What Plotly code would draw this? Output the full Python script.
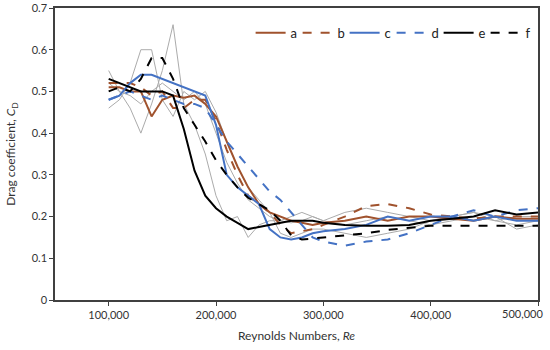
import plotly.graph_objects as go

re_k = [100, 110, 120, 130, 140, 150, 160, 170, 180, 190, 200, 210, 220, 230, 240,
        250, 260, 270, 280, 290, 300, 320, 340, 360, 380, 400, 420, 440, 460, 480, 500]
x_vals = [v * 1000 for v in re_k]

cd_a = [0.51, 0.51, 0.50, 0.50, 0.44, 0.48, 0.49, 0.485, 0.49, 0.47, 0.44, 0.38, 0.32, 0.27, 0.23,
        0.21, 0.20, 0.19, 0.185, 0.18, 0.185, 0.19, 0.20, 0.19, 0.20, 0.20, 0.195, 0.19, 0.20, 0.195, 0.195]
cd_b = [0.52, 0.52, 0.52, 0.51, 0.49, 0.50, 0.46, 0.46, 0.48, 0.48, 0.43, 0.36, 0.30, 0.25, 0.23,
        0.21, 0.18, 0.16, 0.165, 0.17, 0.18, 0.20, 0.225, 0.23, 0.22, 0.205, 0.20, 0.195, 0.20, 0.20, 0.20]
cd_c = [0.48, 0.49, 0.52, 0.54, 0.54, 0.53, 0.52, 0.51, 0.50, 0.49, 0.42, 0.30, 0.27, 0.25, 0.23,
        0.17, 0.15, 0.145, 0.15, 0.16, 0.165, 0.17, 0.18, 0.20, 0.19, 0.20, 0.20, 0.19, 0.20, 0.19, 0.19]
cd_d = [0.48, 0.49, 0.50, 0.49, 0.48, 0.49, 0.48, 0.47, 0.47, 0.46, 0.42, 0.38, 0.35, 0.32, 0.29,
        0.26, 0.24, 0.21, 0.18, 0.15, 0.14, 0.13, 0.14, 0.145, 0.16, 0.18, 0.20, 0.215, 0.20, 0.215, 0.22]
cd_e = [0.53, 0.52, 0.51, 0.50, 0.50, 0.50, 0.49, 0.41, 0.31, 0.25, 0.22, 0.20, 0.185, 0.17, 0.175,
        0.18, 0.185, 0.19, 0.19, 0.19, 0.185, 0.18, 0.178, 0.178, 0.18, 0.19, 0.195, 0.20, 0.215, 0.205, 0.21]
cd_f = [0.50, 0.51, 0.50, 0.53, 0.58, 0.58, 0.53, 0.46, 0.42, 0.38, 0.335, 0.30, 0.27, 0.245, 0.23,
        0.215, 0.19, 0.155, 0.145, 0.148, 0.15, 0.155, 0.16, 0.168, 0.173, 0.178, 0.178, 0.178, 0.178, 0.178, 0.178]

gray_1 = [0.55, 0.50, 0.46, 0.40, 0.47, 0.55, 0.66, 0.47, 0.42, 0.35, 0.25, 0.19, 0.20, 0.15, 0.18,
          0.19, 0.19, 0.185, 0.19, 0.20, 0.19, 0.18, 0.19, 0.20, 0.19, 0.18, 0.19, 0.20, 0.19, 0.18, 0.19]
gray_2 = [0.46, 0.48, 0.52, 0.60, 0.60, 0.48, 0.44, 0.50, 0.48, 0.50, 0.45, 0.38, 0.32, 0.27, 0.24,
          0.21, 0.16, 0.15, 0.16, 0.17, 0.17, 0.16, 0.15, 0.16, 0.17, 0.19, 0.20, 0.21, 0.20, 0.17, 0.18]
gray_3 = [0.52, 0.50, 0.49, 0.47, 0.50, 0.52, 0.50, 0.48, 0.50, 0.47, 0.40, 0.33, 0.28, 0.24, 0.22,
          0.20, 0.19, 0.20, 0.21, 0.20, 0.19, 0.21, 0.22, 0.21, 0.20, 0.19, 0.20, 0.21, 0.19, 0.20, 0.20]

x_tick_vals = [100000, 200000, 300000, 400000, 500000]
x_tick_text = ["100,000", "200,000", "300,000", "400,000", "500,000"]
y_tick_vals = [0, 0.1, 0.2, 0.3, 0.4, 0.5, 0.6, 0.7]
y_tick_text = ["0", "0.1", "0.2", "0.3", "0.4", "0.5", "0.6", "0.7"]

series = [
    ("a", cd_a, "#A0522D", "solid"),
    ("b", cd_b, "#A0522D", "dash"),
    ("c", cd_c, "#4472C4", "solid"),
    ("d", cd_d, "#4472C4", "dash"),
    ("e", cd_e, "#000000", "solid"),
    ("f", cd_f, "#000000", "dash"),
]

fig = go.Figure()
for g in (gray_1, gray_2, gray_3):
    fig.add_trace(go.Scatter(x=x_vals, y=g, mode="lines", showlegend=False,
                             line=dict(color="#ABABAB", width=1), hoverinfo="skip"))
for name, ys, col, dash in series:
    fig.add_trace(go.Scatter(x=x_vals, y=ys, mode="lines", name=name,
                             line=dict(color=col, width=2, dash=dash)))

# last x tick label drawn as annotation, right-aligned so it stays inside the page
fig.add_annotation(x=x_tick_vals[-1], y=0, xref="x", yref="paper", text=x_tick_text[-1],
                   showarrow=False, xanchor="right", yanchor="top", xshift=7, yshift=-5,
                   font=dict(size=11, color="#333333"))

axis_col = "#404040"
fig.update_layout(
    width=550, height=350,
    margin=dict(l=55, r=12, t=8, b=50),
    paper_bgcolor="white", plot_bgcolor="white",
    font=dict(family="Lato, Open Sans, sans-serif", size=11, color="#333333"),
    showlegend=True,
    legend=dict(orientation="h", x=0.405, y=0.915, xanchor="left", yanchor="middle",
                bgcolor="rgba(0,0,0,0)", font=dict(size=13, color="#222222"),
                itemwidth=30, entrywidth=2, entrywidthmode="pixels", tracegroupgap=0),
    xaxis=dict(range=[50000, 500000], tickvals=x_tick_vals,
               ticktext=x_tick_text[:-1] + [""], automargin=False,
               showgrid=False, zeroline=False, showline=True, linecolor=axis_col, linewidth=1.5,
               mirror=True, ticks="outside", ticklen=4, tickcolor=axis_col,
               title=dict(text="Reynolds Numbers, <i>Re</i>", font=dict(size=12), standoff=12)),
    yaxis=dict(range=[0, 0.7], tickvals=y_tick_vals, ticktext=y_tick_text, automargin=False,
               showgrid=False, zeroline=False, showline=True, linecolor=axis_col, linewidth=1.5,
               mirror=True, ticks="outside", ticklen=4, tickcolor=axis_col,
               title=dict(text="Drag coefficient, <i>C</i><sub>D</sub>", font=dict(size=12), standoff=13)),
)

fig.write_html("out.html", config={"displayModeBar": False},
               post_script="document.body.style.margin='0px';document.body.style.padding='0px';")
